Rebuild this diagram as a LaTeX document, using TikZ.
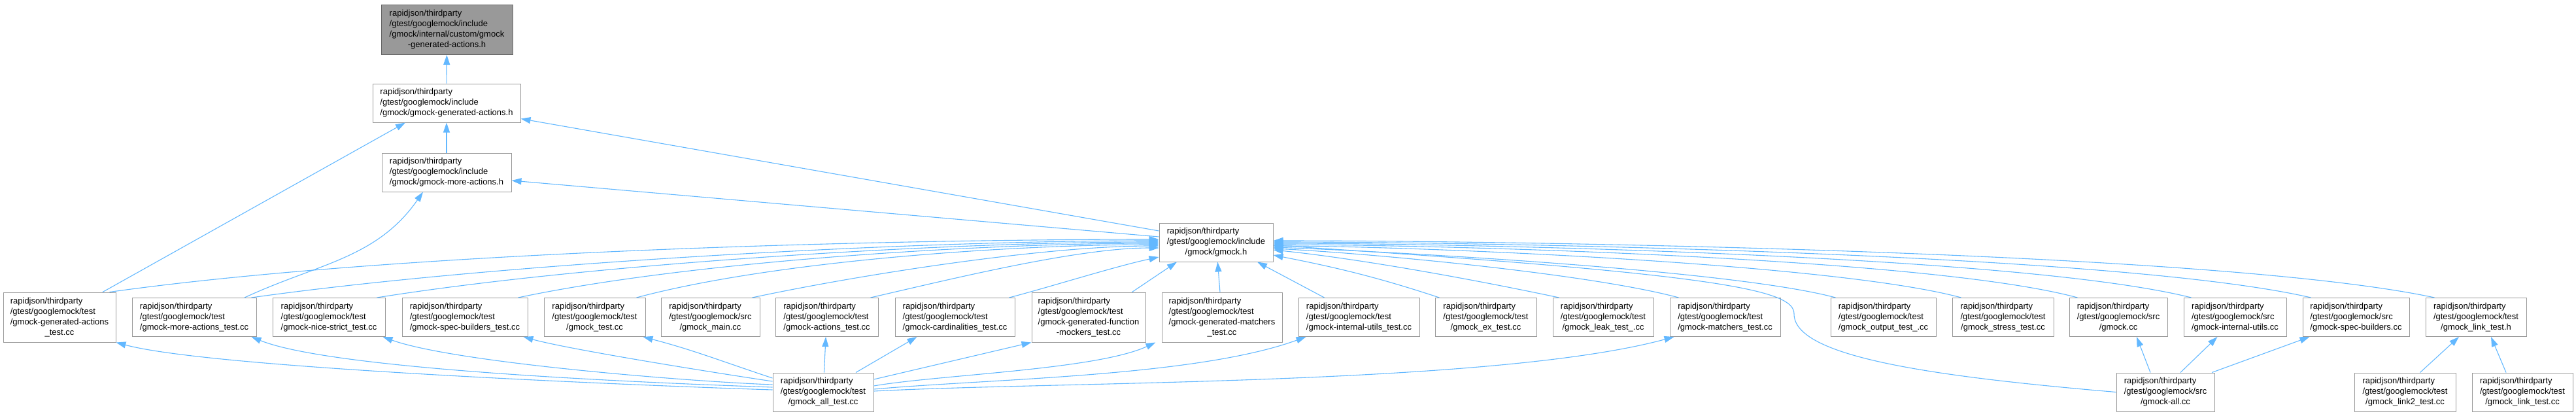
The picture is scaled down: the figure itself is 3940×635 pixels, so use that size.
\documentclass[tikz,border=0pt]{standalone}
\usepackage{fontspec}
\setmainfont{Liberation Sans}
\usetikzlibrary{arrows.meta,positioning}
\definecolor{edgeblue}{HTML}{63B8FF}
\definecolor{boxline}{HTML}{999999}
\definecolor{mainfill}{HTML}{999999}
\definecolor{mainline}{HTML}{666666}
\newcommand{\flines}[2]{\begin{tabular}{@{}l@{}}#1\\\multicolumn{1}{@{}c@{}}{#2}\end{tabular}}

\begin{document}
\begin{tikzpicture}[x=1pt,y=1pt,node distance=24pt,
 file/.style={draw=boxline,line width=1pt,fill=white,inner sep=0pt,minimum height=59pt,
   font=\fontsize{13}{16}\selectfont},
 file4/.style={file,minimum height=76pt},
 dep/.style={draw=edgeblue,line width=1.1pt,-{Triangle[length=15pt,width=10pt]}}]
\useasboundingbox (0,0) rectangle (3940,-635);
% headers
\node[file4,fill=mainfill,draw=mainline,minimum width=201pt] (top) at (683.5,-45.5)
 {\flines{rapidjson/thirdparty\\/gtest/googlemock/include\\/gmock/internal/custom/gmock}{-generated-actions.h}};
\node[file,minimum width=226pt] (gah) at (683,-157.5)
 {\flines{rapidjson/thirdparty\\/gtest/googlemock/include}{/gmock/gmock-generated-actions.h}};
\node[file,minimum width=198pt] (mah) at (683,-263.5)
 {\flines{rapidjson/thirdparty\\/gtest/googlemock/include}{/gmock/gmock-more-actions.h}};
\node[file,minimum width=174pt] (gh) at (1860,-370.5)
 {\flines{rapidjson/thirdparty\\/gtest/googlemock/include}{/gmock/gmock.h}};
% files including gmock.h
\node[file4,minimum width=172pt] (gat) at (91,-485)
 {\flines{rapidjson/thirdparty\\/gtest/googlemock/test\\/gmock-generated-actions}{\_test.cc}};
\node[file,minimum width=190pt,right=of gat] (mat)
 {\flines{rapidjson/thirdparty\\/gtest/googlemock/test}{/gmock-more-actions\_test.cc}};
\node[file,minimum width=172pt,right=of mat] (nst)
 {\flines{rapidjson/thirdparty\\/gtest/googlemock/test}{/gmock-nice-strict\_test.cc}};
\node[file,minimum width=192pt,right=25pt of nst] (sbt)
 {\flines{rapidjson/thirdparty\\/gtest/googlemock/test}{/gmock-spec-builders\_test.cc}};
\node[file,minimum width=155pt,right=of sbt] (gt)
 {\flines{rapidjson/thirdparty\\/gtest/googlemock/test}{/gmock\_test.cc}};
\node[file,minimum width=151pt,right=23pt of gt] (main)
 {\flines{rapidjson/thirdparty\\/gtest/googlemock/src}{/gmock\_main.cc}};
\node[file,minimum width=157pt,right=23pt of main] (act)
 {\flines{rapidjson/thirdparty\\/gtest/googlemock/test}{/gmock-actions\_test.cc}};
\node[file,minimum width=183pt,right=25pt of act] (card)
 {\flines{rapidjson/thirdparty\\/gtest/googlemock/test}{/gmock-cardinalities\_test.cc}};
\node[file4,minimum width=174pt,right=25pt of card] (gfm)
 {\flines{rapidjson/thirdparty\\/gtest/googlemock/test\\/gmock-generated-function}{-mockers\_test.cc}};
\node[file4,minimum width=184pt,right=of gfm] (gmt)
 {\flines{rapidjson/thirdparty\\/gtest/googlemock/test\\/gmock-generated-matchers}{\_test.cc}};
\node[file,minimum width=185pt,right=of gmt] (iut)
 {\flines{rapidjson/thirdparty\\/gtest/googlemock/test}{/gmock-internal-utils\_test.cc}};
\node[file,minimum width=155pt,right=23pt of iut] (ex)
 {\flines{rapidjson/thirdparty\\/gtest/googlemock/test}{/gmock\_ex\_test.cc}};
\node[file,minimum width=154pt,right=of ex] (leak)
 {\flines{rapidjson/thirdparty\\/gtest/googlemock/test}{/gmock\_leak\_test\_.cc}};
\node[file,minimum width=169pt,right=of leak] (mt)
 {\flines{rapidjson/thirdparty\\/gtest/googlemock/test}{/gmock-matchers\_test.cc}};
\node[file,minimum width=161pt,right=76pt of mt] (out)
 {\flines{rapidjson/thirdparty\\/gtest/googlemock/test}{/gmock\_output\_test\_.cc}};
\node[file,minimum width=155pt,right=of out] (stress)
 {\flines{rapidjson/thirdparty\\/gtest/googlemock/test}{/gmock\_stress\_test.cc}};
\node[file,minimum width=150pt,right=23pt of stress] (gcc)
 {\flines{rapidjson/thirdparty\\/gtest/googlemock/src}{/gmock.cc}};
\node[file,minimum width=157pt,right=of gcc] (iu)
 {\flines{rapidjson/thirdparty\\/gtest/googlemock/src}{/gmock-internal-utils.cc}};
\node[file,minimum width=163pt,right=of iu] (sb)
 {\flines{rapidjson/thirdparty\\/gtest/googlemock/src}{/gmock-spec-builders.cc}};
\node[file,minimum width=154pt,right=of sb] (lt)
 {\flines{rapidjson/thirdparty\\/gtest/googlemock/test}{/gmock\_link\_test.h}};
% bottom row
\node[file,minimum width=154pt] (all) at (1259,-599.5)
 {\flines{rapidjson/thirdparty\\/gtest/googlemock/test}{/gmock\_all\_test.cc}};
\node[file,minimum width=150pt] (ga) at (3312,-599.5)
 {\flines{rapidjson/thirdparty\\/gtest/googlemock/src}{/gmock-all.cc}};
\node[file,minimum width=155pt] (l2) at (3678.5,-599.5)
 {\flines{rapidjson/thirdparty\\/gtest/googlemock/test}{/gmock\_link2\_test.cc}};
\node[file,minimum width=154pt] (lk) at (3858,-599.5)
 {\flines{rapidjson/thirdparty\\/gtest/googlemock/test}{/gmock\_link\_test.cc}};
\coordinate (gabend) at (2744,-480);

% upper edges
\draw[dep] (gah) -- (top);
\draw[dep] (mah) -- (gah);
\draw[dep] ([yshift=17.5pt]gh.west) -- ([yshift=-24pt]gah.east);
\draw[dep] ([yshift=8.5pt]gh.west) -- ([yshift=-12.5pt]mah.east);
\draw[dep] ([xshift=66pt]gat.north) -- ([xshift=-63pt]gah.south);
\draw[dep] ([xshift=77pt]mat.north) .. controls +(112,52) and +(-71,-102) .. ([xshift=-36pt]mah.south);
% into gmock.h from the left
\draw[dep] ([xshift=-10pt]gat.north east) .. controls +(436,61) and +(-440,0) .. ([yshift=4.5pt]gh.west);
\draw[dep] ([xshift=-8pt]mat.north east) .. controls +(378,53) and +(-382,0) .. ([yshift=2.5pt]gh.west);
\draw[dep] ([xshift=-13pt]nst.north east) .. controls +(326,52) and +(-330,0) .. ([yshift=0.5pt]gh.west);
\draw[dep] ([xshift=-15pt]sbt.north east) .. controls +(265,56) and +(-271,0) .. ([yshift=-1.5pt]gh.west);
\draw[dep] ([xshift=-14pt]gt.north east) .. controls +(213,57) and +(-221,0) .. ([yshift=-3.5pt]gh.west);
\draw[dep] ([xshift=-12pt]main.north east) .. controls +(169,36) and +(-173,0) .. ([yshift=-5.5pt]gh.west);
\draw[dep] ([xshift=-12pt]act.north east) .. controls +(122,28) and +(-125,0) .. ([yshift=-8.5pt]gh.west);
\draw[dep] ([xshift=-9pt]card.north east) .. controls +(65,17) and +(-66,-14) .. ([yshift=-22.5pt]gh.west);
\draw[dep] ([xshift=-21pt]gfm.north east) -- ([xshift=-60pt]gh.south);
\draw[dep] (gmt) -- (gh);
% into gmock.h from the right
\draw[dep] ([xshift=-53pt]iut.north) -- ([xshift=63pt]gh.south);
\draw[dep] ([xshift=7pt]ex.north west) .. controls +(-94,31) and +(97,-19) .. ([yshift=-19.5pt]gh.east);
\draw[dep] ([xshift=10pt]leak.north west) .. controls +(-132,28) and +(134,-14) .. ([yshift=-11.5pt]gh.east);
\draw[dep] ([xshift=14pt]mt.north west) .. controls +(-138,37) and +(143,-7) .. ([yshift=-9.5pt]gh.east);
\draw[dep] ([xshift=8pt]out.north west) .. controls +(-160,43) and +(166,-6) .. ([yshift=-7.5pt]gh.east);
\draw[dep] ([xshift=14pt]stress.north west) .. controls +(-196,53) and +(203,0) .. ([yshift=-5.5pt]gh.east);
\draw[dep] ([xshift=13pt]gcc.north west) .. controls +(-230,62) and +(238,0) .. ([yshift=-3.5pt]gh.east);
\draw[dep] ([xshift=12pt]iu.north west) .. controls +(-263,66) and +(271,0) .. ([yshift=-1.5pt]gh.east);
\draw[dep] ([xshift=13pt]sb.north west) .. controls +(-299,69) and +(307,0) .. ([yshift=0.5pt]gh.east);
\draw[dep] ([xshift=14pt]lt.north west) .. controls +(-336,72) and +(344,0) .. ([yshift=2.5pt]gh.east);
\draw[dep] (ga.west) .. controls (2950,-575) and (2744,-545) .. (gabend)
 .. controls (2744,-445) and (2650,-420) .. ([yshift=-4.5pt]gh.east);
% gmock_all_test.cc
\draw[dep] ([yshift=3.5pt]all.west) .. controls +(-157,5) and +(152,-41) .. (gat.south east);
\draw[dep] ([yshift=7.5pt]all.west) .. controls +(-141,5) and +(131,-53) .. ([xshift=-8pt]mat.south east);
\draw[dep] ([yshift=11.5pt]all.west) .. controls +(-118,4) and +(111,-40) .. ([xshift=-4pt]nst.south east);
\draw[dep] ([yshift=16.5pt]all.west) .. controls +(-75,11) and +(73,-20) .. ([xshift=-7pt]sbt.south east);
\draw[dep] ([yshift=21.5pt]all.west) .. controls +(-79,26) and +(80,-21) .. ([xshift=-4pt]gt.south east);
\draw[dep] (all) -- (act);
\draw[dep] ([xshift=50pt]all.north) -- ([xshift=-58pt]card.south);
\draw[dep] ([yshift=19.5pt]all.east) -- (gfm.south west);
\draw[dep] ([yshift=9.5pt]all.east) .. controls +(98,17) and +(-91,-42) .. ([xshift=-9pt]gmt.south west);
\draw[dep] ([yshift=4.5pt]all.east) .. controls +(178,16) and +(-168,-61) .. ([xshift=12pt]iut.south west);
\draw[dep] ([yshift=1.5pt]all.east) .. controls +(284,15) and +(-274,-74) .. ([xshift=7pt]mt.south west);
% sources
\draw[dep] ([xshift=-23pt]ga.north) -- ([xshift=28pt]gcc.south);
\draw[dep] ([xshift=23pt]ga.north) -- ([xshift=-27pt]iu.south);
\draw[dep] ([xshift=71pt]ga.north) -- ([xshift=-71pt]sb.south);
\draw[dep] ([xshift=23pt]l2.north) -- ([xshift=-26pt]lt.south);
\draw[dep] ([xshift=-25pt]lk.north) -- ([xshift=23pt]lt.south);
\end{tikzpicture}
\end{document}
